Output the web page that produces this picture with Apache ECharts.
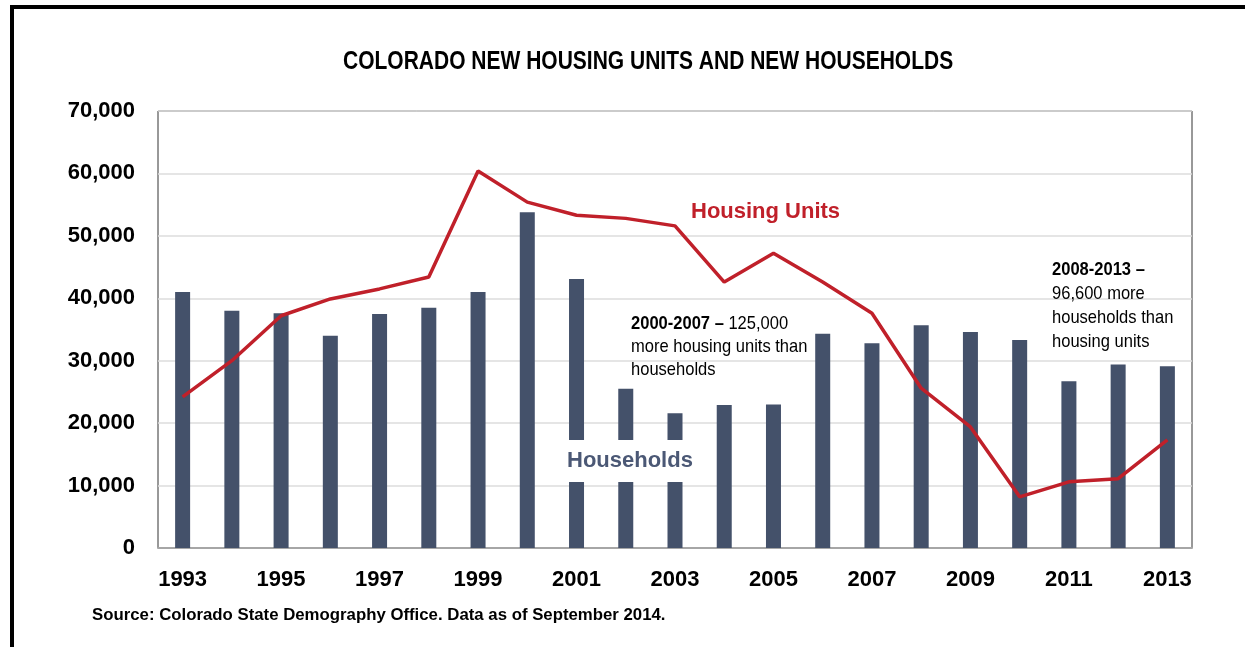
<!DOCTYPE html>
<html>
<head>
<meta charset="utf-8">
<script src="https://cdn.jsdelivr.net/npm/echarts@6/dist/echarts.min.js"></script>
<style>
  html, body { margin: 0; padding: 0; background: #fff; }
  #chart { width: 1245px; height: 647px; }
</style>
</head>
<body>
<div id="chart"></div>
<script>
// --- data ---
const years = ['1993', '1994', '1995', '1996', '1997', '1998', '1999', '2000', '2001', '2002', '2003',
  '2004', '2005', '2006', '2007', '2008', '2009', '2010', '2011', '2012', '2013'];
const households = [41000, 38000, 37600, 34000, 37500, 38500, 41000, 53800, 43100, 25500, 21600,
  22900, 23000, 34300, 32800, 35700, 34600, 33300, 26700, 29400, 29100];
const housingUnits = [24200, 30000, 37200, 39900, 41500, 43400, 60400, 55400, 53300, 52800, 51600,
  42600, 47200, 42600, 37600, 25600, 19400, 8200, 10600, 11100, 17300];
const yTicks = [0, 10000, 20000, 30000, 40000, 50000, 60000, 70000];

// no narrow face installed, so narrow text is squeezed with scaleX
const ARIAL = '"Liberation Sans", Arial, sans-serif';
const RED = '#C0202A';
const NAVY = '#44516A';

const chart = echarts.init(document.getElementById('chart'));

const option = {
  backgroundColor: '#fff',
  animation: false,
  grid: {
    left: 158,
    right: 53,
    top: 111,
    bottom: 99,
    show: true,
    borderColor: '#333',
    borderWidth: 1
  },
  xAxis: {
    type: 'category',
    data: years,
    boundaryGap: true,
    axisLine: { lineStyle: { color: '#A6A6A6', width: 2 } },
    axisTick: { show: false },
    axisLabel: {
      interval: 1,
      margin: 21,
      fontFamily: ARIAL,
      fontSize: 22,
      fontWeight: 'bold',
      color: '#000'
    }
  },
  yAxis: {
    type: 'value',
    min: yTicks[0],
    max: yTicks[yTicks.length - 1],
    interval: 10000,
    axisLine: { show: false },
    axisTick: { show: false },
    splitLine: { lineStyle: { color: '#DDDDDD', width: 1.5 } },
    axisLabel: {
      margin: 23,
      fontFamily: ARIAL,
      fontSize: 22,
      fontWeight: 'bold',
      color: '#000',
      formatter: v => v.toLocaleString('en-US')
    }
  },
  series: [
    {
      name: 'Households',
      type: 'bar',
      data: households,
      barWidth: 15,
      itemStyle: { color: NAVY },
      z: 2
    },
    {
      name: 'Housing Units',
      type: 'line',
      data: housingUnits,
      symbol: 'none',
      lineStyle: { color: RED, width: 3.5 },
      z: 3
    }
  ],
  graphic: [
    // outer frame (top + left black rules)
    { type: 'rect', shape: { x: 10, y: 5, width: 1235, height: 4 }, style: { fill: '#000' }, z: 100 },
    { type: 'rect', shape: { x: 10, y: 5, width: 4, height: 642 }, style: { fill: '#000' }, z: 100 },
    {
      type: 'text', x: 343, y: 62, scaleX: 0.84, z: 100,
      style: {
        text: 'COLORADO NEW HOUSING UNITS AND NEW HOUSEHOLDS',
        fill: '#000', font: 'bold 25px ' + ARIAL, verticalAlign: 'middle'
      }
    },
    {
      type: 'text', left: 691, top: 201, z: 100,
      style: { text: 'Housing Units', fill: RED, font: 'bold 22px ' + ARIAL }
    },
    {
      type: 'text', left: 561, top: 440, z: 100,
      style: {
        text: 'Households', fill: '#4B5875', font: 'bold 22px ' + ARIAL,
        backgroundColor: '#fff', padding: [10, 8, 10, 6]
      }
    },
    {
      type: 'text', x: 631, y: 312, scaleX: 0.87, z: 100,
      style: {
        text: '{b|2000-2007 –} 125,000\nmore housing units than\nhouseholds',
        font: '19px ' + ARIAL, fill: '#000', lineHeight: 23,
        rich: { b: { fontFamily: ARIAL, fontSize: 19, fontWeight: 'bold', fill: '#000' } }
      }
    },
    {
      type: 'text', x: 1052, y: 258, scaleX: 0.87, z: 100,
      style: {
        text: '{b|2008-2013 –}\n96,600 more\nhouseholds than\nhousing units',
        font: '19px ' + ARIAL, fill: '#000', lineHeight: 24,
        rich: { b: { fontFamily: ARIAL, fontSize: 19, fontWeight: 'bold', fill: '#000' } }
      }
    },
    {
      type: 'text', left: 92, top: 607, z: 100,
      style: {
        text: 'Source: Colorado State Demography Office. Data as of September 2014.',
        fill: '#000', font: 'bold 16.8px ' + ARIAL
      }
    }
  ]
};

chart.setOption(option);
</script>
</body>
</html>
